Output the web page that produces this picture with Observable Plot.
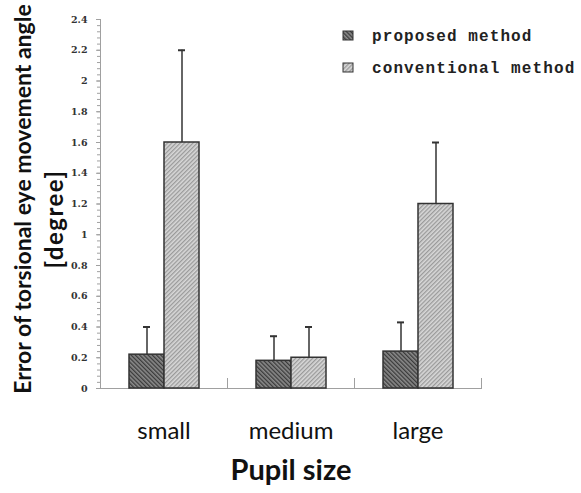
<!DOCTYPE html>
<html>
<head>
<meta charset="utf-8">
<script src="https://cdn.jsdelivr.net/npm/d3@7"></script>
<script src="https://cdn.jsdelivr.net/npm/@observablehq/plot@0.6"></script>
<style>
  html, body { margin: 0; padding: 0; background: #fff; }
  #chart { position: relative; width: 581px; height: 493px; }
</style>
</head>
<body>
<div id="chart"></div>
<script>
// ---- data ----
const groups = ["small", "medium", "large"];
const methods = ["proposed method", "conventional method"];
const proposedMean = [0.22, 0.18, 0.24];
const proposedSD = [0.18, 0.16, 0.19];
const conventionalMean = [1.6, 0.2, 1.2];
const conventionalSD = [0.6, 0.2, 0.4];
const yTicks = [0, 0.2, 0.4, 0.6, 0.8, 1, 1.2, 1.4, 1.6, 1.8, 2, 2.2, 2.4];
const yMinorTicks = d3.range(0, 61).map(i => i * 0.04);
const yTitle = "Error of torsional eye movement angle";
const yUnit = "[degree]";
const xTitle = "Pupil size";

const rows = groups.flatMap((g, i) => [
  {group: g, method: methods[0], mean: proposedMean[i], sd: proposedSD[i]},
  {group: g, method: methods[1], mean: conventionalMean[i], sd: conventionalSD[i]}
]);

const axisGray = "#a0a0a0";
const ink = "#333";

const plot = Plot.plot({
  width: 581,
  height: 493,
  marginLeft: 100,
  marginRight: 100,
  marginTop: 19,
  marginBottom: 105,
  style: {background: "#fff", overflow: "visible"},
  fx: {domain: groups, padding: 0},
  x: {domain: methods, paddingInner: 0, paddingOuter: 0.77, axis: null},
  y: {domain: [0, 2.4]},
  color: {domain: methods, range: ["url(#patProposed)", "url(#patConventional)"]},
  marks: [
    Plot.frame({anchor: "left", facetAnchor: "left", stroke: axisGray}),
    Plot.frame({anchor: "right", insetTop: 359, stroke: axisGray}),
    Plot.ruleY([0], {stroke: axisGray}),
    Plot.axisY({ticks: yMinorTicks, tickSize: 3, stroke: axisGray, tickFormat: () => "", label: null}),
    Plot.axisY({ticks: yTicks, tickSize: 4, tickPadding: 9, stroke: axisGray, fill: "#333",
      tickFormat: d => String(+d.toFixed(1)), label: null,
      fontFamily: "DejaVu Serif", fontWeight: "bold", fontSize: 9.5}),
    Plot.axisFx({anchor: "bottom", tickSize: 0, tickPadding: 33, label: null,
      fontFamily: "Lato", fontSize: 24, fill: "#111"}),
    Plot.barY(rows, {fx: "group", x: "method", y: "mean", fill: "method", stroke: ink, strokeWidth: 1.5}),
    Plot.ruleX(rows, {fx: "group", x: "method", y1: "mean", y2: d => d.mean + d.sd, stroke: ink, strokeWidth: 1.5}),
    Plot.tickY(rows, {fx: "group", x: "method", y: d => d.mean + d.sd, insetLeft: 14, insetRight: 14, stroke: ink, strokeWidth: 2})
  ]
});

const svg = d3.select(plot);
const defs = svg.insert("defs", ":first-child");
function hatch(id, bg, line, dir) {
  const p = defs.append("pattern").attr("id", id).attr("patternUnits", "userSpaceOnUse")
    .attr("width", 3).attr("height", 3)
    .attr("patternTransform", `rotate(${dir})`);
  p.append("rect").attr("width", 3).attr("height", 3).attr("fill", bg);
  p.append("rect").attr("width", 1.3).attr("height", 3).attr("fill", line);
}
hatch("patProposed", "#8a8a8a", "#3a3a3a", -45);
hatch("patConventional", "#d8d8d8", "#9a9a9a", 45);

// axis titles
svg.append("text")
  .attr("transform", "translate(31,199) rotate(-90)")
  .attr("text-anchor", "middle")
  .attr("font-family", "Lato").attr("font-weight", "bold").attr("font-size", 23)
  .attr("fill", "#111").text(yTitle);
svg.append("text")
  .attr("transform", "translate(63,219) rotate(-90)")
  .attr("text-anchor", "middle")
  .attr("font-family", "Lato").attr("font-weight", "bold").attr("font-size", 24)
  .attr("letter-spacing", "1.5px")
  .attr("fill", "#111").text(yUnit);
svg.append("text")
  .attr("x", 291).attr("y", 480)
  .attr("text-anchor", "middle")
  .attr("font-family", "Lato").attr("font-weight", "bold").attr("font-size", 29)
  .attr("fill", "#111").text(xTitle);

// legend
const legend = svg.append("g").attr("text-anchor", "start");
methods.forEach((m, i) => {
  const y = 31 + i * 32;
  legend.append("rect").attr("x", 343).attr("y", y).attr("width", 10).attr("height", 9)
    .attr("fill", i === 0 ? "url(#patProposed)" : "url(#patConventional)")
    .attr("stroke", ink).attr("stroke-width", 1);
  legend.append("text").attr("x", 372).attr("y", y + 9.5)
    .attr("text-anchor", "start")
    .attr("font-family", "Liberation Mono").attr("font-size", 16)
    .attr("letter-spacing", "1.1px").attr("font-weight", "bold")
    .attr("fill", "#222").text(m);
});

document.getElementById("chart").append(plot);
</script>
</body>
</html>
